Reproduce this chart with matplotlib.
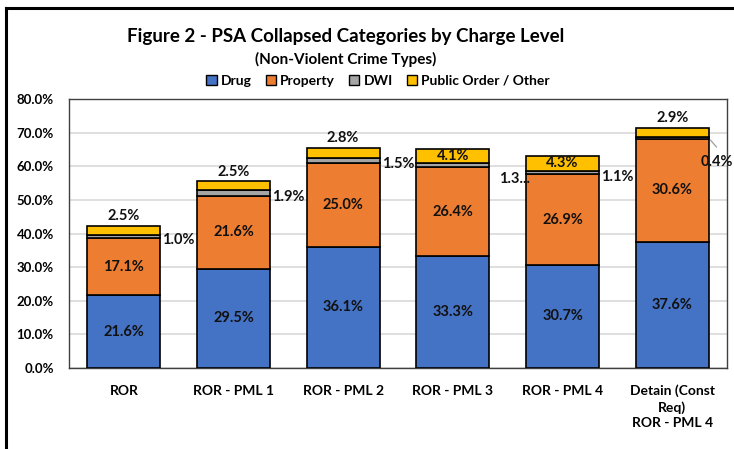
import matplotlib.pyplot as plt
import matplotlib.lines as mlines
import matplotlib.patches as mpatches
import numpy as np

plt.rcParams['font.family'] = ['Lato', 'DejaVu Sans']
plt.rcParams['font.weight'] = 'bold'

categories = ["ROR", "ROR - PML 1", "ROR - PML 2", "ROR - PML 3", "ROR - PML 4",
              "Detain (Const\nReq)\nROR - PML 4"]
drug = [21.6, 29.5, 36.1, 33.3, 30.7, 37.6]
prop = [17.1, 21.6, 25.0, 26.4, 26.9, 30.6]
dwi = [1.0, 1.9, 1.5, 1.3, 1.1, 0.4]
public = [2.5, 2.5, 2.8, 4.1, 4.3, 2.9]
dwi_text = ["1.0%", "1.9%", "1.5%", "1.3...", "1.1%", "0.4%"]

colors = ["#4472C4", "#ED7D31", "#A5A5A5", "#FFC000"]
names = ["Drug", "Property", "DWI", "Public Order / Other"]

fig = plt.figure(figsize=(7.34, 4.49), dpi=100)
ax = fig.add_axes([0.094, 0.1804, 0.8965, 0.5991])

x = np.arange(len(categories))
w = 0.665
b1 = np.array(drug)
b2 = b1 + np.array(prop)
b3 = b2 + np.array(dwi)
tops = b3 + np.array(public)

ax.bar(x, drug, w, color=colors[0], edgecolor="black", linewidth=1.2, zorder=3)
ax.bar(x, prop, w, bottom=b1, color=colors[1], edgecolor="black", linewidth=1.2, zorder=3)
ax.bar(x, dwi, w, bottom=b2, color=colors[2], edgecolor="black", linewidth=1.2, zorder=3)
ax.bar(x, public, w, bottom=b3, color=colors[3], edgecolor="black", linewidth=1.2, zorder=3)

fs = 10.5
tc = "#111111"
for i in range(len(x)):
    ax.text(x[i], drug[i] / 2, f"{drug[i]:.1f}%", ha="center", va="center",
            fontsize=fs, color=tc, zorder=4)
    ax.text(x[i], b1[i] + prop[i] / 2, f"{prop[i]:.1f}%", ha="center", va="center",
            fontsize=fs, color=tc, zorder=4)
    # public order labels: inside for the larger ones, above otherwise
    if public[i] > 4:
        ax.text(x[i], b3[i] + public[i] / 2, f"{public[i]:.1f}%", ha="center",
                va="center", fontsize=fs, color=tc, zorder=4)
    else:
        ax.annotate(f"{public[i]:.1f}%", (x[i], tops[i]), xytext=(0, 7),
                    textcoords="offset points", ha="center", va="center",
                    fontsize=fs, color=tc)

# DWI labels beside the bars
mid = b2 + np.array(dwi) / 2
for i in range(5):
    dx, dy = 1.5, -3
    if i == 3:
        dx, dy = 7, -10
    ax.annotate(dwi_text[i], (x[i] + w / 2, mid[i]), xytext=(dx, dy),
                textcoords="offset points", ha="left", va="center",
                fontsize=fs, color=tc)
ax.annotate(dwi_text[5], (x[5] + w / 2, mid[5]), xytext=(-6, -17),
            textcoords="offset points", ha="left", va="center",
            fontsize=fs, color=tc, annotation_clip=False)
ax.annotate("", (x[5] + w / 2, mid[5]), xytext=(7, -8),
            textcoords="offset points",
            arrowprops=dict(arrowstyle="-", color="#A5A5A5", lw=1))

ax.set_ylim(0, 80)
ax.set_xlim(-0.5, len(x) - 0.5)
ax.set_yticks(np.arange(0, 81, 10))
ax.set_yticklabels([f"{v:.1f}%" for v in np.arange(0, 81, 10)], fontsize=9.5)
ax.set_xticks(x)
ax.set_xticklabels(categories, fontsize=10, linespacing=1.35)
ax.tick_params(axis="y", length=0, pad=11)
ax.tick_params(axis="x", length=0, pad=12)
ax.yaxis.grid(True, color="#D9D9D9", lw=1.2, zorder=0)
for s in ax.spines.values():
    s.set_color("#404040")
    s.set_linewidth(1)

fig.text(0.471, 0.918, "Figure 2 - PSA Collapsed Categories by Charge Level",
         ha="center", va="center", fontsize=13.5)
fig.text(0.471, 0.868, "(Non-Violent Crime Types)", ha="center", va="center",
         fontsize=11)

handles = [mpatches.Patch(facecolor=c, edgecolor="black", lw=1) for c in colors]
fig.legend(handles, names, loc="center", bbox_to_anchor=(0.515, 0.82), ncol=4,
           frameon=False, fontsize=10, handlelength=0.75, handleheight=0.75,
           handletextpad=0.3, columnspacing=1.0, borderpad=0)

# outer border lines
fig.add_artist(mlines.Line2D([0.008, 1.0], [0.982, 0.982], color="black", lw=2.2,
                             transform=fig.transFigure))
fig.add_artist(mlines.Line2D([0.008, 0.008], [0.982, 0.0], color="black", lw=2.2,
                             transform=fig.transFigure))

fig.savefig("out.png", dpi=100)
